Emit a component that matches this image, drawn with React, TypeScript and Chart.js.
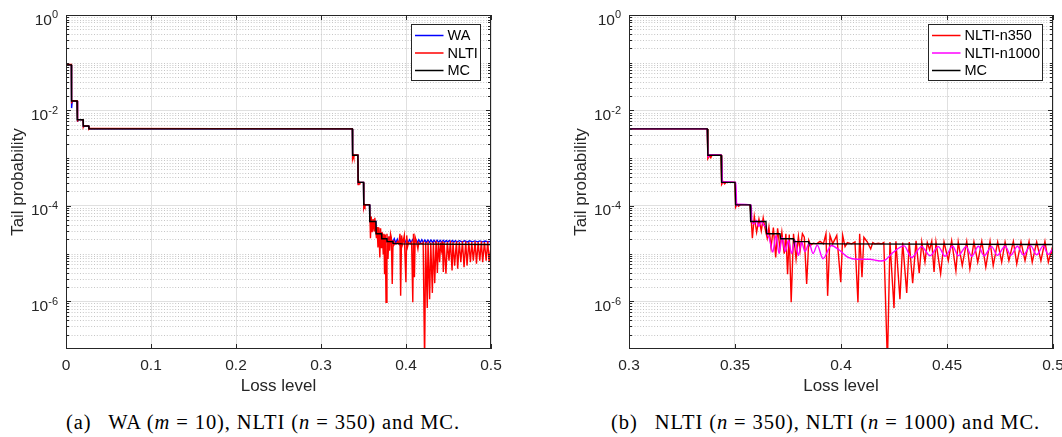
import React, { useEffect, useRef } from 'react';
import { Chart, registerables } from 'chart.js';

Chart.register(...registerables);

// ---------------- data ----------------
const MC_X = [0, 0.0063, 0.0065, 0.0130, 0.0132, 0.0201, 0.0203, 0.0267, 0.0270, 0.3369,
  0.3372, 0.3434, 0.3437, 0.3500, 0.3503, 0.3571, 0.3574, 0.3646, 0.3649, 0.3712,
  0.3715, 0.3775, 0.3778, 0.3846, 0.3849, 0.3950, 0.5];
const MC_Y = [0.090, 0.090, 0.0158, 0.0158, 0.0064, 0.0064, 0.0047, 0.0047, 0.0041, 0.0041,
  0.00115, 0.00115, 0.00031, 0.00031, 0.000105, 0.000105, 0.000047, 0.000047, 0.000026, 0.000026,
  0.0000205, 0.0000205, 0.0000178, 0.0000178, 0.0000163, 0.000016, 0.0000155];

const NLTI350_X = [0, 0.0063, 0.0066, 0.0072, 0.0130, 0.0133, 0.0140, 0.0201, 0.0204, 0.0212,
  0.0267, 0.0270, 0.0285, 0.3369,
  0.3372, 0.3380, 0.3386, 0.3392, 0.3434, 0.3437, 0.3445, 0.3451, 0.3458, 0.3500,
  0.3503, 0.3510, 0.3517, 0.3525, 0.3571,
  0.3577, 0.3582, 0.3591, 0.3602, 0.3613, 0.3624, 0.3633, 0.3641, 0.3652, 0.3660,
  0.3670, 0.3681, 0.3692, 0.3701, 0.3712, 0.3721, 0.3732, 0.3740, 0.3748, 0.3756,
  0.3765, 0.3776, 0.3788, 0.3799, 0.3807, 0.3818, 0.3827, 0.3838, 0.3848, 0.3857,
  0.3870, 0.3885, 0.3901, 0.3917, 0.3929, 0.3937, 0.3948, 0.3961, 0.3980, 0.3999,
  0.4008, 0.4019, 0.4030, 0.4050, 0.4066, 0.4080, 0.4088, 0.4099, 0.4108, 0.4124,
  0.4140, 0.4150, 0.4160, 0.4176, 0.4192, 0.4202, 0.4219, 0.4231, 0.4250, 0.4259,
  0.4278, 0.4291, 0.4310, 0.4322, 0.4338, 0.4354, 0.4369, 0.4381, 0.4396, 0.4407,
  0.4418, 0.4428, 0.4439, 0.4448, 0.4470, 0.4486, 0.4506, 0.4522, 0.4542, 0.4553,
  0.4572, 0.4593, 0.4608, 0.4627, 0.4645, 0.4664, 0.4683, 0.4703, 0.4718, 0.4739,
  0.4758, 0.4774, 0.4792, 0.4813, 0.4829, 0.4849, 0.4868, 0.4887, 0.4902, 0.4923,
  0.4943, 0.4962, 0.4978, 0.4994, 0.5000];
const NLTI350_Y = [0.092, 0.092, 0.0140, 0.0160, 0.0160, 0.0058, 0.0065, 0.0064, 0.0045, 0.0048,
  0.0047, 0.0040, 0.0042, 0.0041,
  0.00098, 0.00113, 0.00102, 0.00116, 0.00116, 0.00028, 0.00032, 0.00029, 0.00031, 0.00031,
  0.000094, 0.000108, 0.000098, 0.000106, 0.000106,
  4.8e-5, 2.1e-5, 6.0e-5, 2.8e-5, 5.3e-5, 3.0e-5, 5.6e-5, 3.5e-5, 2.1e-5, 3.6e-5,
  1.35e-5, 3.5e-5, 8.3e-6, 3.4e-5, 1.3e-5, 2.8e-5, 9.9e-6, 2.6e-5, 3.7e-6, 2.5e-5,
  9.5e-7, 2.6e-5, 7.7e-6, 2.3e-5, 1.15e-5, 2.6e-5, 2.2e-5, 2.3e-6, 1.9e-5, 1.5e-5,
  1.65e-5, 1.6e-5, 1.8e-5, 1.6e-5, 2.6e-5, 1.3e-6, 2.4e-5, 1.6e-5, 2.4e-5, 2.5e-6,
  2.4e-5, 1.4e-5, 1.7e-5, 1.6e-5, 1.75e-5, 9.5e-7, 2.6e-5, 3.2e-6, 2.2e-5, 1.75e-5,
  1.25e-5, 1.7e-5, 1.6e-5, 1.65e-5, 1.6e-5, 1.7e-5, 5e-8, 1.75e-5, 7.2e-7, 1.8e-5,
  1.1e-6, 1.7e-5, 1.5e-6, 1.75e-5, 2.4e-6, 1.85e-5, 3.9e-6, 1.75e-5, 6.6e-6, 1.7e-5,
  1.2e-5, 1.8e-5, 4.1e-6, 1.75e-5, 3.8e-6, 1.75e-5, 7.1e-6, 1.85e-5, 4.4e-6, 1.75e-5,
  5.6e-6, 1.8e-5, 4.8e-6, 1.75e-5, 6.6e-6, 1.8e-5, 5.2e-6, 1.8e-5, 5.6e-6, 1.75e-5,
  6.6e-6, 1.75e-5, 7.1e-6, 1.8e-5, 6.1e-6, 1.75e-5, 7.1e-6, 1.8e-5, 6.6e-6, 1.75e-5,
  7.1e-6, 1.8e-5, 6.6e-6, 1.2e-5, 7.7e-6];

const WA_X = [0, 0.0063, 0.0066, 0.0074, 0.0130, 0.0133, 0.0140, 0.0201, 0.0204, 0.0267,
  0.0270, 0.3369, 0.3372, 0.3380, 0.3434, 0.3437, 0.3444, 0.3500, 0.3503, 0.3510,
  0.3571, 0.3574, 0.3646, 0.3649, 0.3712, 0.3715,
  0.3730, 0.3750, 0.3770, 0.3790, 0.3808, 0.3826, 0.3844, 0.3862, 0.3880, 0.3898,
  0.3916, 0.3934, 0.3952, 0.3970, 0.3988, 0.4006, 0.4024, 0.4042, 0.4060, 0.4078,
  0.4096, 0.4114, 0.4132, 0.4150, 0.4168, 0.4186, 0.4204, 0.4222, 0.4240, 0.4258,
  0.4276, 0.4294, 0.4312, 0.4330, 0.4348, 0.4366, 0.4384, 0.4402, 0.4420, 0.4438,
  0.4456, 0.4474, 0.4492, 0.4510, 0.4528, 0.4546, 0.4564, 0.4582, 0.4600, 0.4630,
  0.4660, 0.4690, 0.4720, 0.4750, 0.4780, 0.4810, 0.4840, 0.4870, 0.4900, 0.4930,
  0.4960, 0.5000];
const WA_Y = [0.090, 0.090, 0.0112, 0.0160, 0.0158, 0.0057, 0.0065, 0.0064, 0.0046, 0.0047,
  0.0041, 0.0041, 0.00108, 0.00115, 0.00115, 0.00029, 0.00031, 0.00031, 0.000095, 0.000105,
  0.000105, 0.000047, 0.000047, 0.000027, 0.000027, 0.000022,
  2.0e-5, 2.1e-5, 1.8e-5, 2.1e-5, 1.7e-5, 2.05e-5, 1.7e-5, 2.05e-5, 1.65e-5, 2.0e-5,
  1.65e-5, 2.0e-5, 1.7e-5, 2.0e-5, 1.7e-5, 1.95e-5, 1.7e-5, 1.95e-5, 1.7e-5, 1.95e-5,
  1.7e-5, 1.95e-5, 1.7e-5, 1.95e-5, 1.7e-5, 1.95e-5, 1.7e-5, 1.92e-5, 1.72e-5, 1.92e-5,
  1.72e-5, 1.92e-5, 1.72e-5, 1.9e-5, 1.72e-5, 1.9e-5, 1.72e-5, 1.9e-5, 1.74e-5, 1.9e-5,
  1.74e-5, 1.88e-5, 1.74e-5, 1.88e-5, 1.74e-5, 1.88e-5, 1.74e-5, 1.86e-5, 1.75e-5, 1.86e-5,
  1.75e-5, 1.85e-5, 1.75e-5, 1.85e-5, 1.76e-5, 1.84e-5, 1.76e-5, 1.84e-5, 1.76e-5, 1.83e-5,
  1.77e-5, 1.8e-5];

const NLTI1000_X = [0.3000, 0.3369, 0.3373, 0.3380, 0.3437, 0.3441, 0.3448, 0.3504, 0.3508, 0.3515,
  0.3576, 0.3580, 0.3590, 0.3600, 0.3612, 0.3625, 0.3636, 0.3648, 0.3653, 0.3662,
  0.3678, 0.3693, 0.3708, 0.3722, 0.3737, 0.3752, 0.3767, 0.3783, 0.3799, 0.3814,
  0.3830, 0.3850, 0.3868, 0.3888, 0.3915, 0.3955, 0.3990, 0.4034, 0.4075, 0.4135,
  0.4185, 0.4210, 0.4245, 0.4298, 0.4333, 0.4380, 0.4420, 0.4459, 0.4491, 0.4527,
  0.4553, 0.4590, 0.4617, 0.4648, 0.4675, 0.4711, 0.4737, 0.4774, 0.4801, 0.4832,
  0.4860, 0.4895, 0.4923, 0.4954, 0.4978, 0.5000];
const NLTI1000_Y = [0.0041, 0.0041, 0.00105, 0.00118, 0.00116, 0.00030, 0.00032, 0.00031, 0.000100, 0.000108,
  0.000105, 0.000047, 0.000042, 0.000050, 0.000037, 0.000048, 0.000039, 0.000035, 0.000025, 0.000021,
  1.07e-5, 2.4e-5, 1.0e-5, 2.2e-5, 1.1e-5, 1.9e-5, 1.0e-5, 1.9e-5, 9.1e-6, 1.75e-5,
  1.1e-5, 1.65e-5, 1.0e-5, 1.5e-5, 7.8e-6, 1.48e-5, 1.2e-5, 8.3e-6, 7.6e-6, 7.6e-6,
  7.0e-6, 7.4e-6, 1.05e-5, 1.45e-5, 8.3e-6, 1.4e-5, 9.0e-6, 1.4e-5, 8.8e-6, 1.42e-5,
  9.0e-6, 1.4e-5, 8.8e-6, 1.42e-5, 9.0e-6, 1.4e-5, 9.2e-6, 1.42e-5, 9.2e-6, 1.42e-5,
  9.4e-6, 1.45e-5, 9.4e-6, 1.45e-5, 9.6e-6, 1.3e-5];

const Y_MIN = 1e-7;
const Y_MAX = 1;
const Y_MAJOR_TICKS = [1, 1e-2, 1e-4, 1e-6];
const Y_TICK_EXPONENTS = ['0', '-2', '-4', '-6'];
const X_TICKS_A = [0, 0.1, 0.2, 0.3, 0.4, 0.5];
const X_LABELS_A = ['0', '0.1', '0.2', '0.3', '0.4', '0.5'];
const X_TICKS_B = [0.3, 0.35, 0.4, 0.45, 0.5];
const X_LABELS_B = ['0.3', '0.35', '0.4', '0.45', '0.5'];
const LEGEND_A = ['WA', 'NLTI', 'MC'];
const LEGEND_B = ['NLTI-n350', 'NLTI-n1000', 'MC'];
const X_TITLE = 'Loss level';
const Y_TITLE = 'Tail probability';

// ---------------- styling ----------------
const SANS = '"Liberation Sans", Arial, Helvetica, sans-serif';
const SERIF = '"Liberation Serif", "Times New Roman", serif';
const AXIS_COLOR = '#262626';
const GRID_COLOR = '#e0e0e0';
const MINOR_GRID_COLOR = '#c6c6c6';

const toPoints = (xs: number[], ys: number[]) => xs.map((x, i) => ({ x, y: ys[i] }));

const isMajorY = (v: number) =>
  Y_MAJOR_TICKS.some((t) => Math.abs(Math.log10(t) - Math.log10(v)) < 1e-6);

const minorYValues = () => {
  const out: number[] = [];
  for (let e = -7; e < 0; e++) {
    for (let m = 1; m <= 9; m++) {
      const v = m * Math.pow(10, e);
      if (v <= Y_MIN * 1.0001 || v >= Y_MAX * 0.9999) continue;
      out.push(v);
    }
  }
  return out;
};

const framePlugin = {
  id: 'frame',
  beforeDatasetsDraw(chart: any) {
    const { ctx, chartArea: a, scales } = chart;
    const y = scales.y;
    ctx.save();
    ctx.strokeStyle = MINOR_GRID_COLOR;
    ctx.lineWidth = 1;
    ctx.setLineDash([1, 1.8]);
    for (const v of minorYValues()) {
      if (isMajorY(v)) continue;
      const py = Math.round(y.getPixelForValue(v)) + 0.5;
      ctx.beginPath();
      ctx.moveTo(a.left, py);
      ctx.lineTo(a.right, py);
      ctx.stroke();
    }
    ctx.restore();
  },
  afterDatasetsDraw(chart: any) {
    const { ctx, chartArea: a, scales } = chart;
    const x = scales.x;
    const y = scales.y;
    ctx.save();
    ctx.setLineDash([]);
    ctx.strokeStyle = AXIS_COLOR;
    ctx.lineWidth = 1;
    // y tick marks (inward, both sides)
    for (const v of minorYValues()) {
      const py = Math.round(y.getPixelForValue(v)) + 0.5;
      const len = isMajorY(v) ? 5 : 3;
      ctx.beginPath();
      ctx.moveTo(a.left, py);
      ctx.lineTo(a.left + len, py);
      ctx.moveTo(a.right, py);
      ctx.lineTo(a.right - len, py);
      ctx.stroke();
    }
    // x tick marks (inward, bottom and top)
    for (const t of x.ticks) {
      const px = Math.round(x.getPixelForValue(t.value)) + 0.5;
      ctx.beginPath();
      ctx.moveTo(px, a.bottom);
      ctx.lineTo(px, a.bottom - 5);
      ctx.moveTo(px, a.top);
      ctx.lineTo(px, a.top + 5);
      ctx.stroke();
    }
    // axes box
    ctx.strokeRect(a.left + 0.5, a.top + 0.5, a.right - a.left - 1, a.bottom - a.top - 1);

    // y tick labels 10^k
    ctx.fillStyle = AXIS_COLOR;
    ctx.textBaseline = 'alphabetic';
    ctx.textAlign = 'left';
    Y_MAJOR_TICKS.forEach((v, i) => {
      const py = y.getPixelForValue(v);
      const exp = Y_TICK_EXPONENTS[i];
      ctx.font = `11px ${SANS}`;
      const ew = ctx.measureText(exp).width;
      ctx.font = `15.5px ${SANS}`;
      const bw = ctx.measureText('10').width;
      const right = a.left - 8;
      ctx.fillText('10', right - ew - bw, py + 9.5);
      ctx.font = `11px ${SANS}`;
      ctx.fillText(exp, right - ew, py + 3.3);
    });

    // legend
    const ds = chart.data.datasets;
    ctx.font = `14.5px ${SANS}`;
    let maxW = 0;
    ds.forEach((d: any) => { maxW = Math.max(maxW, ctx.measureText(d.label).width); });
    const w = Math.round(36.5 + maxW + 3);
    const h = 57;
    const bx = Math.round(a.right - 10 - w);
    const by = Math.round(a.top + 9);
    ctx.fillStyle = '#ffffff';
    ctx.fillRect(bx, by, w, h);
    ctx.strokeStyle = AXIS_COLOR;
    ctx.lineWidth = 1;
    ctx.strokeRect(bx + 0.5, by + 0.5, w - 1, h - 1);
    ds.forEach((d: any, i: number) => {
      const ry = by + 11.5 + i * 17.5;
      ctx.strokeStyle = d.borderColor;
      ctx.lineWidth = 1.5;
      ctx.beginPath();
      ctx.moveTo(bx + 4, ry);
      ctx.lineTo(bx + 32.5, ry);
      ctx.stroke();
      ctx.fillStyle = '#000000';
      ctx.textBaseline = 'middle';
      ctx.fillText(d.label, bx + 36.5, ry + 0.5);
    });
    ctx.restore();
  },
};

type Series = { label: string; xs: number[]; ys: number[]; color: string; order: number; smooth?: boolean };

function makeConfig(opts: {
  series: Series[];
  xMin: number;
  xMax: number;
  xTicks: number[];
  xLabels: string[];
  yWidth: number;
  padRight: number;
  yTitlePad: number;
}): any {
  return {
    type: 'line',
    data: {
      datasets: opts.series.map((s) => ({
        label: s.label,
        data: toPoints(s.xs, s.ys),
        borderColor: s.color,
        backgroundColor: s.color,
        borderWidth: 1.4,
        pointRadius: 0,
        fill: false,
        tension: 0,
        cubicInterpolationMode: s.smooth ? 'monotone' : 'default',
        order: s.order,
      })),
    },
    options: {
      animation: false,
      responsive: false,
      events: [],
      layout: { padding: { left: 0, right: opts.padRight, top: 15, bottom: 0 }, autoPadding: false },
      plugins: { legend: { display: false }, tooltip: { enabled: false } },
      scales: {
        x: {
          type: 'linear',
          min: opts.xMin,
          max: opts.xMax,
          afterBuildTicks: (s: any) => { s.ticks = opts.xTicks.map((v) => ({ value: v })); },
          afterFit: (s: any) => { s.height = 51; },
          ticks: {
            callback: (_v: any, i: number) => opts.xLabels[i],
            font: { family: SANS, size: 15.5 },
            color: AXIS_COLOR,
            padding: 7.4,
            maxRotation: 0,
            autoSkip: false,
          },
          grid: { color: GRID_COLOR, lineWidth: 1, drawTicks: false },
          border: { display: false },
          title: {
            display: true,
            text: X_TITLE,
            font: { family: SANS, size: 17 },
            color: AXIS_COLOR,
            padding: { top: 0, bottom: 3.1 },
          },
        },
        y: {
          type: 'logarithmic',
          min: Y_MIN,
          max: Y_MAX,
          afterBuildTicks: (s: any) => { s.ticks = Y_MAJOR_TICKS.map((v) => ({ value: v })); },
          afterFit: (s: any) => { s.width = opts.yWidth; },
          ticks: { display: false },
          grid: { color: GRID_COLOR, lineWidth: 1, drawTicks: false },
          border: { display: false },
          title: {
            display: true,
            text: Y_TITLE,
            font: { family: SANS, size: 17 },
            color: AXIS_COLOR,
            padding: { top: opts.yTitlePad, bottom: 0 },
          },
        },
      },
    },
    plugins: [framePlugin],
  };
}

export default function App() {
  const refA = useRef<HTMLCanvasElement | null>(null);
  const refB = useRef<HTMLCanvasElement | null>(null);

  useEffect(() => {
    const chartA = new Chart(refA.current as HTMLCanvasElement, makeConfig({
      series: [
        { label: LEGEND_A[0], xs: WA_X, ys: WA_Y, color: '#0000ff', order: 3 },
        { label: LEGEND_A[1], xs: NLTI350_X, ys: NLTI350_Y, color: '#ff0000', order: 2 },
        { label: LEGEND_A[2], xs: MC_X, ys: MC_Y, color: '#000000', order: 1 },
      ],
      xMin: 0,
      xMax: 0.5,
      xTicks: X_TICKS_A,
      xLabels: X_LABELS_A,
      yWidth: 66,
      padRight: 40,
      yTitlePad: 8.4,
    }));
    const chartB = new Chart(refB.current as HTMLCanvasElement, makeConfig({
      series: [
        { label: LEGEND_B[0], xs: NLTI350_X, ys: NLTI350_Y, color: '#ff0000', order: 3 },
        { label: LEGEND_B[1], xs: NLTI1000_X, ys: NLTI1000_Y, color: '#ff00ff', order: 2, smooth: true },
        { label: LEGEND_B[2], xs: MC_X, ys: MC_Y, color: '#000000', order: 1 },
      ],
      xMin: 0.3,
      xMax: 0.5,
      xTicks: X_TICKS_B,
      xLabels: X_LABELS_B,
      yWidth: 98,
      padRight: 38,
      yTitlePad: 40.3,
    }));
    return () => {
      chartA.destroy();
      chartB.destroy();
    };
  }, []);

  const captionStyle: React.CSSProperties = {
    position: 'absolute',
    top: 410,
    fontFamily: SERIF,
    fontSize: 20.5,
    lineHeight: '24px',
    letterSpacing: 0.9,
    whiteSpace: 'pre',
    color: '#000',
  };

  return (
    <div style={{ position: 'fixed', left: 0, top: 0, width: 1062, height: 437, overflow: 'hidden', background: '#ffffff' }}>
      <canvas ref={refA} width={531} height={400} style={{ position: 'absolute', left: 0, top: 0 }} />
      <canvas ref={refB} width={560} height={400} style={{ position: 'absolute', left: 531, top: 0 }} />
      <div style={{ ...captionStyle, left: 66 }}>
        {'(a)\u2002 WA ('}<i>m</i>{' = 10), NLTI ('}<i>n</i>{' = 350) and MC.'}
      </div>
      <div style={{ ...captionStyle, left: 611 }}>
        {'(b)\u2002 NLTI ('}<i>n</i>{' = 350), NLTI ('}<i>n</i>{' = 1000) and MC.'}
      </div>
    </div>
  );
}
